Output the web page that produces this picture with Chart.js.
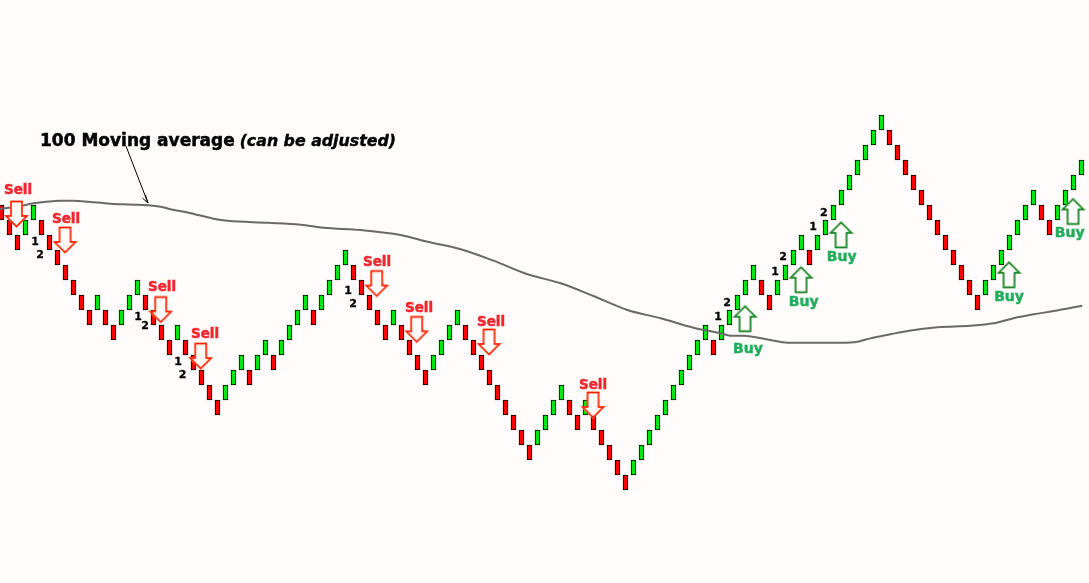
<!DOCTYPE html>
<html>
<head>
<meta charset="utf-8">
<title>Renko chart with moving average</title>
<script src="https://cdn.jsdelivr.net/npm/chart.js@4/dist/chart.umd.min.js"></script>
<style>
  html, body { margin: 0; padding: 0; background: #fffcfb; }
  canvas { display: block; }
</style>
</head>
<body>
<canvas id="renko" width="1089" height="583"></canvas>
<script>
// brick top price per column (one brick = 1 unit)
const brickTops = [
  19,18,17,18,19,18,17,16,15,14,
  13,12,13,12,11,12,13,14,13,12,
  11,10,11,10,9,8,7,6,7,8,
  9,8,9,10,9,10,11,12,13,12,
  13,14,15,16,15,14,13,12,11,12,
  11,10,9,8,9,10,11,12,11,10,
  9,8,7,6,5,4,3,4,5,6,
  7,6,5,6,5,4,3,2,1,2,
  3,4,5,6,7,8,9,10,11,10,
  11,12,13,14,15,14,13,14,15,16,
  17,16,17,18,19,20,21,22,23,24,
  25,24,23,22,21,20,19,18,17,16,
  15,14,13,14,15,16,17,18,19,20,
  19,18,19,20,21,22
];

// 100 moving average
const maColumns = [-0.2,2.4,4,7.4,9,11.1,13.6,17,19.9,21.1,23.25,26.5,28.25,33.25,37.4,40.25,44.9,49.9,53.25,57.4,61.5,65.75,69.9,74,78.25,82.4,86.5,89.9,91.1,92.75,96.1,98.25,104.9,107,108.6,111.1,113.25,117,121.1,124,126.5,129,131.5,135.1];
const maValues = [18.73,18.93,19.11,19.29,19.29,19.2,19.09,19.02,18.89,18.72,18.5,18.09,17.95,17.82,17.69,17.49,17.33,17.0,16.55,16.05,15.29,14.38,13.78,12.93,12.0,11.45,10.82,10.45,10.29,10.29,10.0,9.82,9.82,9.89,10.11,10.38,10.6,10.85,10.95,11.11,11.45,11.71,11.93,12.29];

// signal arrows
const sellArrowColumns = [1.875,7.94,19.9,24.9,46.9,51.9,60.94,73.94];
const sellArrowPrices = [18.4,16.67,12.03,8.93,13.77,10.71,9.87,5.67];
const buyArrowColumns = [92.94,99.94,104.94,125.94,133.94];
const buyArrowPrices = [11.42,14.02,17.01,14.35,18.57];

// signal labels
const sellLabelColumns = [2.06,8.06,20.06,25.44,46.94,52.19,61.19,73.94];
const sellLabelPrices = [19.73,17.82,13.27,10.15,14.93,11.87,10.93,6.73];
const buyLabelColumns = [93.31,100.28,105.03,125.94,133.53];
const buyLabelPrices = [9.13,12.27,15.27,12.6,16.85];

// 1-2 count labels
const countTexts = ["1","2","1","2","1","2","1","2","1","2","1","2","1","2"];
const countColumns = [4.19,4.81,17.06,17.94,22.06,22.65,43.31,43.94,89.56,90.69,96.69,97.69,101.44,102.78];
const countPrices = [16.33,15.47,11.33,10.73,8.33,7.47,13.07,12.22,11.33,12.29,14.33,15.33,17.33,18.27];

const GREEN = "#00e810";
const RED = "#ff0000";
const BG = "#fffcfb";

function brickColor(i) {
  if (i === 0) return RED;
  return brickTops[i] > brickTops[i - 1] ? GREEN : RED;
}

// arrow outline on a small canvas, used as the point style
function makeArrow(up, outer, inner) {
  const c = document.createElement("canvas");
  c.width = 25;
  c.height = 30;
  const g = c.getContext("2d");
  const pts = [[7,2.5],[18,2.5],[18,17],[23,17],[12.5,27.5],[2,17],[7,17]];
  if (up) {
    g.translate(0, 30);
    g.scale(1, -1);
  }
  g.beginPath();
  pts.forEach((p, i) => (i ? g.lineTo(p[0], p[1]) : g.moveTo(p[0], p[1])));
  g.closePath();
  g.fillStyle = BG;
  g.fill();
  g.lineJoin = "miter";
  g.strokeStyle = inner;
  g.lineWidth = 2.2;
  g.stroke();
  g.strokeStyle = outer;
  g.lineWidth = 1.4;
  g.stroke();
  return c;
}

const toPoints = (xs, ys) => xs.map((x, i) => ({ x: x, y: ys[i] }));

// bold text as in the picture, slightly heavier than the canvas draws it
function heavyText(ctx, text, x, y, weight) {
  ctx.lineWidth = weight;
  ctx.strokeStyle = ctx.fillStyle;
  ctx.strokeText(text, x, y);
  ctx.fillText(text, x, y);
}

const annotations = {
  id: "annotations",
  beforeDraw(chart) {
    const ctx = chart.ctx;
    ctx.save();
    ctx.fillStyle = BG;
    ctx.fillRect(0, 0, chart.width, chart.height);
    ctx.restore();
  },
  afterDatasetsDraw(chart) {
    const ctx = chart.ctx;
    const sx = chart.scales.x;
    const sy = chart.scales.y;
    ctx.save();
    ctx.textBaseline = "alphabetic";
    ctx.textAlign = "center";

    ctx.font = "bold 13.5px 'DejaVu Sans'";
    ctx.fillStyle = "#f2262e";
    sellLabelColumns.forEach((c, i) => {
      heavyText(ctx, "Sell", sx.getPixelForValue(c), sy.getPixelForValue(sellLabelPrices[i]), 0.5);
    });

    ctx.font = "bold 14px 'DejaVu Sans'";
    ctx.fillStyle = "#22ad5c";
    buyLabelColumns.forEach((c, i) => {
      heavyText(ctx, "Buy", sx.getPixelForValue(c), sy.getPixelForValue(buyLabelPrices[i]), 0.5);
    });

    ctx.font = "bold 11px 'DejaVu Sans'";
    ctx.fillStyle = "#000";
    countTexts.forEach((t, i) => {
      heavyText(ctx, t, sx.getPixelForValue(countColumns[i]), sy.getPixelForValue(countPrices[i]), 0.3);
    });

    // caption with pointer
    const capX = sx.getPixelForValue(4.81);
    const capY = sy.getPixelForValue(22.93);
    ctx.textAlign = "left";
    ctx.font = "bold 17px 'DejaVu Sans'";
    const first = "100 Moving average ";
    heavyText(ctx, first, capX, capY, 0.5);
    const w = ctx.measureText(first).width;
    ctx.font = "italic bold 15.8px 'DejaVu Sans'";
    heavyText(ctx, "(can be adjusted)", capX + w - 1, capY, 0.4);

    const ax = sx.getPixelForValue(15.56);
    const ay = sy.getPixelForValue(22.93);
    const bx = sx.getPixelForValue(18.31);
    const by = sy.getPixelForValue(19.13);
    ctx.strokeStyle = "#000";
    ctx.lineWidth = 1;
    ctx.beginPath();
    ctx.moveTo(ax, ay);
    ctx.lineTo(bx, by);
    ctx.moveTo(bx - 5.5, by - 5);
    ctx.lineTo(bx, by);
    ctx.lineTo(bx - 2.5, by - 8);
    ctx.stroke();
    ctx.restore();
  }
};

new Chart(document.getElementById("renko"), {
  type: "bar",
  data: {
    datasets: [
      {
        type: "scatter",
        data: toPoints(sellArrowColumns, sellArrowPrices),
        pointStyle: makeArrow(false, "#ff1408", "#ffb878"),
        order: 1
      },
      {
        type: "scatter",
        data: toPoints(buyArrowColumns, buyArrowPrices),
        pointStyle: makeArrow(true, "#087c18", "#a8d0a0"),
        order: 1
      },
      {
        type: "line",
        data: toPoints(maColumns, maValues),
        borderColor: "#696969",
        borderWidth: 2,
        pointRadius: 0,
        cubicInterpolationMode: "monotone",
        order: 2
      },
      {
        type: "bar",
        data: brickTops.map((top, i) => ({ x: i, y: [top - 1, top] })),
        backgroundColor: brickTops.map((top, i) => brickColor(i)),
        borderColor: "#000",
        borderWidth: 1,
        borderSkipped: false,
        barThickness: 5,
        order: 3
      }
    ]
  },
  options: {
    responsive: false,
    animation: false,
    events: [],
    layout: { padding: 0, autoPadding: false },
    plugins: {
      legend: { display: false },
      title: { display: false },
      tooltip: { enabled: false }
    },
    scales: {
      x: {
        type: "linear",
        display: false,
        offset: false,
        min: -0.1875,
        max: 135.9375
      },
      y: {
        type: "linear",
        display: false,
        min: -6.2,
        max: 32.6667
      }
    }
  },
  plugins: [annotations]
});
</script>
</body>
</html>
